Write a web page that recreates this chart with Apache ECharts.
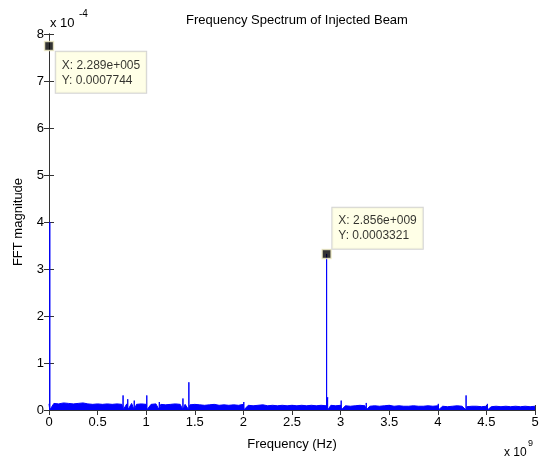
<!DOCTYPE html>
<html>
<head>
<meta charset="utf-8">
<script src="https://cdn.jsdelivr.net/npm/echarts@6/dist/echarts.min.js"></script>
<style>html,body{margin:0;padding:0;background:#fff;}#c{width:544px;height:460px;}</style>
</head>
<body>
<div id="c"></div>
<script>
// x in units of 1e9 Hz, y in units of 1e-4
const xTickLabels = ['0','0.5','1','1.5','2','2.5','3','3.5','4','4.5','5'];
const yTickLabels = ['0','1','2','3','4','5','6','7','8'];

// noise floor envelope, sampled every 0.05e9 Hz from 0 to 5e9
const floorStart = 0, floorStep = 0.05;
const floorY = [
  0.13,0.14,0.13,0.15,0.14,0.13,0.14,0.15,0.13,0.12,0.13,
  0.12,0.13,0.12,0.13,0.12,0.13,0.14,0.12,0.13,0.12,
  0.12,0.13,0.12,0.11,0.12,0.13,0.12,0.12,0.11,0.12,
  0.11,0.10,0.11,0.12,0.10,0.11,0.10,0.11,0.10,0.12,
  0.10,0.09,0.10,0.11,0.09,0.10,0.09,0.10,0.09,0.10,
  0.09,0.10,0.09,0.10,0.09,0.10,0.09,0.10,0.09,0.10,
  0.09,0.08,0.09,0.10,0.09,0.08,0.09,0.08,0.09,0.10,
  0.08,0.09,0.08,0.08,0.09,0.08,0.08,0.09,0.08,0.09,
  0.08,0.07,0.08,0.09,0.08,0.07,0.08,0.08,0.07,0.08,
  0.07,0.08,0.07,0.08,0.07,0.08,0.07,0.08,0.07,0.08
];

// narrow spectral lines
const spikeX = [0.008, 0.762, 0.81, 0.877, 1.006, 1.135, 1.378, 1.439, 2.004, 2.856, 2.867, 3.006, 3.264, 4.005, 4.291, 4.51];
const spikeY = [4.0,   0.31,  0.23, 0.20,  0.31,  0.17,  0.245, 0.59,  0.17,  3.321, 0.27,  0.20,  0.15,  0.13,  0.31,  0.13];

// data tips
const tipX = [0.0002289, 2.856];
const tipY = [7.744, 3.321];
const tipText = ['X: 2.289e+005\nY: 0.0007744', 'X: 2.856e+009\nY: 0.0003321'];

const pts = [];
floorY.forEach((v, i) => pts.push([floorStart + i * floorStep, v]));
spikeX.forEach((x, i) => { pts.push([x, 0]); pts.push([x, spikeY[i]]); pts.push([x, 0]); });
pts.sort((a, b) => a[0] - b[0]);

const FONT = 'Liberation Sans';
const AX = '#333';
const tipLabelBase = {
  show: true, formatter: p => p.data.t, align: 'left',
  backgroundColor: '#ffffe1', borderColor: '#c8c8c8', borderWidth: 1,
  padding: [6, 6, 5, 6], fontSize: 12, lineHeight: 15, color: '#000', fontFamily: FONT
};
const tipData = tipX.map((x, i) => ({
  value: [x, tipY[i]], t: tipText[i],
  label: i === 0 ? Object.assign({}, tipLabelBase, { position: [12, 11], verticalAlign: 'top' })
                 : Object.assign({}, tipLabelBase, { position: [11, 0], verticalAlign: 'bottom' })
}));

const grid = { left: 49, top: 34, width: 486, height: 376 };
const chart = echarts.init(document.getElementById('c'), null, { renderer: 'canvas' });
chart.setOption({
  animation: false,
  backgroundColor: '#fff',
  title: {
    text: 'Frequency Spectrum of Injected Beam', left: 292, top: 9, textAlign: 'center',
    textStyle: { fontFamily: FONT, fontSize: 13, fontWeight: 'normal', color: '#000' }
  },
  grid: grid,
  xAxis: [{
    type: 'value', min: 0, max: 5, interval: 0.5, position: 'bottom',
    name: 'Frequency (Hz)', nameLocation: 'middle', nameGap: 28,
    nameTextStyle: { fontFamily: FONT, fontSize: 13, color: '#000' },
    axisLine: { lineStyle: { color: AX, width: 1 } },
    axisTick: { inside: true, length: 5, lineStyle: { color: AX } },
    axisLabel: { formatter: v => xTickLabels[Math.round(v / 0.5)], fontFamily: FONT, fontSize: 13, color: '#000', margin: 6 },
    splitLine: { show: false }
  }, {
    type: 'value', min: 0, max: 5, interval: 0.5, position: 'top',
    axisLine: { lineStyle: { color: AX, width: 1 } },
    axisTick: { inside: true, length: 5, lineStyle: { color: AX } },
    axisLabel: { show: false }, splitLine: { show: false }
  }],
  yAxis: [{
    type: 'value', min: 0, max: 8, interval: 1, position: 'left',
    name: 'FFT magnitude', nameLocation: 'middle', nameGap: 24,
    nameTextStyle: { fontFamily: FONT, fontSize: 13, color: '#000' },
    axisLine: { show: true, lineStyle: { color: AX, width: 1 } },
    axisTick: { show: true, inside: true, length: 5, lineStyle: { color: AX } },
    axisLabel: { formatter: v => yTickLabels[Math.round(v)], fontFamily: FONT, fontSize: 13, color: '#000', margin: 5 },
    splitLine: { show: false }
  }, {
    type: 'value', min: 0, max: 8, interval: 1, position: 'right',
    axisLine: { show: true, lineStyle: { color: AX, width: 1 } },
    axisTick: { show: true, inside: true, length: 5, lineStyle: { color: AX } },
    axisLabel: { show: false }, splitLine: { show: false }
  }],
  graphic: [
    { type: 'text', left: 50, top: 17, style: { text: 'x 10', font: '13px ' + FONT, fill: '#000' } },
    { type: 'text', left: 79, top: 9, style: { text: '-4', font: '10px ' + FONT, fill: '#000' } },
    { type: 'text', left: 504, top: 447, style: { text: 'x 10', font: '12px ' + FONT, fill: '#000' } },
    { type: 'text', left: 528, top: 439, style: { text: '9', font: '9px ' + FONT, fill: '#000' } }
  ],
  series: [{
    type: 'line', data: pts, xAxisIndex: 0, yAxisIndex: 0,
    showSymbol: false, sampling: null, smooth: false,
    lineStyle: { color: '#0000ff', width: 1 },
    areaStyle: { color: '#0000ff', opacity: 1, origin: 'start' },
    z: 2
  }, {
    type: 'scatter', data: tipData, xAxisIndex: 0, yAxisIndex: 0,
    symbol: 'rect', symbolSize: 9, clip: false,
    itemStyle: { color: '#000', borderColor: '#f3efc8', borderWidth: 1.5 },
    z: 5
  }]
});
</script>
</body>
</html>
